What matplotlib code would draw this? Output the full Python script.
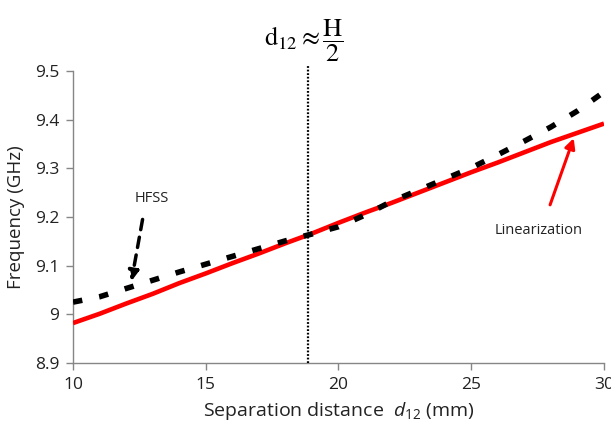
import matplotlib
matplotlib.use("Agg")
import matplotlib.pyplot as plt

# ---- data ----
d12 = [10, 11, 12, 13, 14, 15, 16, 17, 18, 19, 20, 21, 22, 23, 24, 25, 26, 27, 28, 29, 30]
hfss = [9.025, 9.036, 9.053, 9.070, 9.087, 9.103, 9.119, 9.135, 9.151, 9.165, 9.180,
        9.204, 9.232, 9.255, 9.278, 9.301, 9.328, 9.356, 9.385, 9.418, 9.457]
linear = [8.982, 9.001, 9.022, 9.042, 9.064, 9.084, 9.105, 9.125, 9.146, 9.166, 9.188,
          9.209, 9.229, 9.250, 9.271, 9.292, 9.312, 9.333, 9.354, 9.373, 9.392]
x_ticks = [10, 15, 20, 25, 30]
y_ticks = [8.9, 9.0, 9.1, 9.2, 9.3, 9.4, 9.5]
y_tick_labels = ["8.9", "9", "9.1", "9.2", "9.3", "9.4", "9.5"]
vline_x = 18.85
hfss_label = "HFSS"
hfss_text_xy = (12.96, 9.239)
hfss_arrow_from = (12.62, 9.195)
hfss_arrow_to = (12.20, 9.068)
lin_label = "Linearization"
lin_text_xy = (27.53, 9.173)
lin_arrow_from = (27.97, 9.225)
lin_arrow_to = (28.86, 9.362)

plt.rcParams['font.family'] = ['Open Sans', 'DejaVu Sans']
plt.rcParams['mathtext.fontset'] = 'custom'
plt.rcParams['mathtext.rm'] = 'Open Sans'
plt.rcParams['mathtext.it'] = 'Open Sans:italic'

fig = plt.figure(figsize=(6.11, 4.28), dpi=100)
ax = fig.add_axes([0.1195, 0.152, 0.869, 0.682])

gray = '#868686'
txt = '#222222'
ax.plot(d12, linear, color='#ff0000', lw=3.3, solid_capstyle='butt', zorder=3)
ax.plot(d12, hfss, color='black', lw=4.0, dashes=(1.7, 3.1), zorder=4)

ax.axvline(vline_x, ymin=0, ymax=1.02, color='black', lw=1.6, linestyle=(0, (0.8, 0.8)),
           clip_on=False, zorder=5)

ax.set_xlim(10, 30)
ax.set_ylim(8.9, 9.5)
ax.set_xticks(x_ticks)
ax.set_yticks(y_ticks)
ax.set_yticklabels(y_tick_labels)
for s in ['top', 'right']:
    ax.spines[s].set_visible(False)
for s in ['left', 'bottom']:
    ax.spines[s].set_color(gray)
    ax.spines[s].set_linewidth(1.0)
ax.tick_params(axis='both', direction='out', length=5, width=1, color=gray,
               labelsize=12.5, labelcolor=txt)
ax.tick_params(axis='x', pad=5)
ax.tick_params(axis='y', pad=5)

ax.set_xlabel(r"Separation distance  $\mathit{d}_{\mathit{12}}$ (mm)", fontsize=14, labelpad=5,
              color=txt)
ax.set_ylabel("Frequency (GHz)", fontsize=13.5, labelpad=7, color=txt)

# annotations
ax.text(*hfss_text_xy, hfss_label, fontsize=10.5, ha='center', va='center', color=txt)
ax.annotate("", xy=hfss_arrow_to, xytext=hfss_arrow_from,
            arrowprops=dict(arrowstyle='-|>,head_length=0.6,head_width=0.3', color='black',
                            lw=2.5, linestyle=(0, (3, 2.2)), shrinkA=0, shrinkB=0))
ax.text(*lin_text_xy, lin_label, fontsize=10.5, ha='center', va='center', color=txt)
ax.annotate("", xy=lin_arrow_to, xytext=lin_arrow_from,
            arrowprops=dict(arrowstyle='-|>,head_length=0.6,head_width=0.3', color='#ff0000',
                            lw=2.2, shrinkA=0, shrinkB=0))

fig.text(0.4975, 0.905, r"$\mathrm{d}_{12}\approx\dfrac{\mathrm{H}}{2}$", fontsize=19,
         ha='center', va='center', math_fontfamily='stix')

fig.savefig("out.png", dpi=100)
